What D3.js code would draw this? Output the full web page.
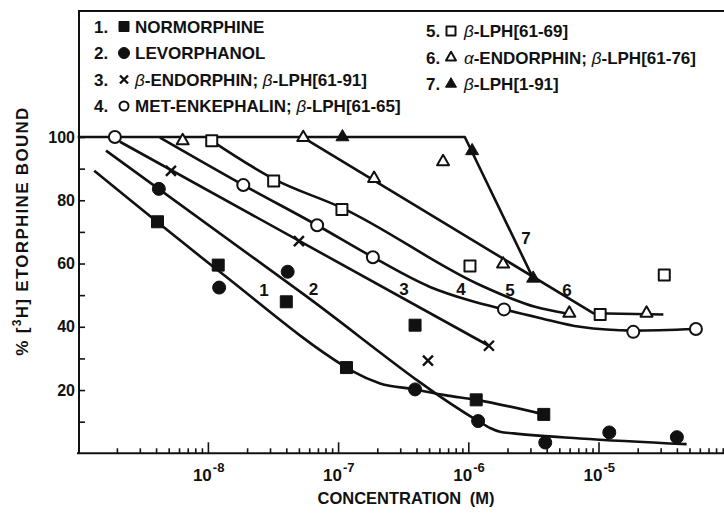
<!DOCTYPE html>
<html lang="en">
<head>
<meta charset="UTF-8">
<title>Etorphine binding displacement</title>
<script src="https://d3js.org/d3.v7.min.js"></script>
<style>
  body { margin: 0; background: #fff; }
  text { font-family: "Liberation Sans", Arial, sans-serif; font-weight: bold; fill: #111; }
</style>
</head>
<body>
<div id="chart"></div>
<script>
// legend / series
var legendLabels = ["NORMORPHINE", "LEVORPHANOL", "β-ENDORPHIN; β-LPH[61-91]", "MET-ENKEPHALIN; β-LPH[61-65]",
                    "β-LPH[61-69]", "α-ENDORPHIN; β-LPH[61-76]", "β-LPH[1-91]"];
var markerTypes = ["squareFilled", "circleFilled", "cross", "circleOpen", "squareOpen", "triangleOpen", "triangleFilled"];

// measured points: [concentration (M), % bound]
var pts1 = [[4.1e-9, 73.2], [1.2e-8, 59.5], [4.0e-8, 47.9], [1.16e-7, 27.1], [3.9e-7, 40.5], [1.15e-6, 16.9], [3.8e-6, 12.3]];
var pts2 = [[4.2e-9, 83.6], [1.22e-8, 52.4], [4.1e-8, 57.4], [3.9e-7, 20.2], [1.19e-6, 10.2], [3.9e-6, 3.4], [1.21e-5, 6.6], [4.0e-5, 5.1]];
var pts3 = [[5.2e-9, 89.3], [5.0e-8, 67.1], [4.9e-7, 29.3], [1.44e-6, 34.0]];
var pts4 = [[1.93e-9, 100], [1.87e-8, 84.8], [6.9e-8, 72.1], [1.85e-7, 62.0], [1.88e-6, 45.5], [1.85e-5, 38.4], [5.6e-5, 39.3]];
var pts5 = [[1.07e-8, 98.8], [3.2e-8, 86.1], [1.07e-7, 77.1], [1.03e-6, 59.2], [1.03e-5, 43.9], [3.2e-5, 56.4]];
var pts6 = [[6.4e-9, 98.8], [5.4e-8, 99.8], [1.89e-7, 86.9], [6.4e-7, 92.2], [1.85e-6, 59.8], [5.97e-6, 44.3], [2.34e-5, 44.3]];
var pts7 = [[1.08e-7, 100], [1.07e-6, 95.6], [3.15e-6, 55.3]];

// the hand drawn curves
var fit1 = [[1.34e-9, 89.3], [1.24e-8, 57.3], [1.16e-7, 27.1], [1.31e-7, 25.8], [2.1e-7, 22.1], [3.9e-7, 20.2], [6.6e-7, 18.4], [1.15e-6, 16.9], [3.8e-6, 12.3]];
var fit2 = [[1.65e-9, 95.7], [5.1e-8, 51.1], [1.19e-6, 10.2], [1.47e-6, 8.0], [1.75e-6, 6.8], [2.22e-6, 6.3], [7.2e-6, 4.7], [4.75e-5, 2.9]];
var fit3 = [[2.11e-9, 98.5], [1.44e-6, 34.0]];
var fit4 = [[4.28e-9, 99.8], [1.87e-8, 84.8], [6.9e-8, 72.1], [1.85e-7, 62.0], [5.08e-7, 52.6], [1.03e-6, 48.3], [1.88e-6, 45.5], [3.54e-6, 42.8], [7.2e-6, 40.0], [1.84e-5, 38.8], [5.6e-5, 39.3]];
var fit5 = [[1.07e-8, 98.8], [3.22e-8, 86.7], [1.07e-7, 77.6], [1.23e-6, 53.2], [2.09e-6, 49.1], [3.25e-6, 46.3], [5.6e-6, 44.3]];
var fit6 = [[5.4e-8, 99.8], [9.1e-6, 44.3], [3.15e-5, 43.9]];
var fit7 = [[1e-9, 100], [9.4e-7, 100], [3.15e-6, 55.3]];

// where the numbers 1..7 sit next to the curves
var curveLabelPos = [[2.70e-8, 51.6], [6.47e-8, 51.8], [3.21e-7, 51.8], [8.79e-7, 51.8], [2.09e-6, 51.6], [5.73e-6, 51.6], [2.77e-6, 68.1]];

var yTicks = [10, 20, 30, 40, 50, 60, 70, 80, 90, 100];
var xMajor = [1e-8, 1e-7, 1e-6, 1e-5];
var xMinor = [];
[1e-9, 1e-8, 1e-7, 1e-6, 1e-5].forEach(function(d) {
    for (var k = 2; k <= 9; k++) xMinor.push(d * k);
});

var points = [pts1, pts2, pts3, pts4, pts5, pts6, pts7];
var fits = [fit1, fit2, fit3, fit4, fit5, fit6, fit7];
var smooth = [true, true, false, true, true, false, false];

var width = 724, height = 515;
var margin = {top: 11, right: 0, bottom: 62, left: 79};

var x = d3.scaleLog().domain([1e-9, 1e-4]).range([77.7, 728.7]);
var y = d3.scaleLinear().domain([0, 100]).range([height - margin.bottom + 0.3, 137]);

var svg = d3.select("#chart").append("svg")
    .attr("width", width)
    .attr("height", height)
    .style("background", "#fff");

// frame: y axis runs up to the box line at the top
svg.append("path")
    .attr("d", "M" + margin.left + "," + y(0) + "V" + margin.top + "H" + width)
    .attr("fill", "none").attr("stroke", "#111").attr("stroke-width", 2);
svg.append("line")
    .attr("x1", margin.left - 2).attr("x2", width)
    .attr("y1", y(0)).attr("y2", y(0))
    .attr("stroke", "#111").attr("stroke-width", 2);

// x ticks point up into the plot
var gx = svg.append("g").attr("transform", "translate(0," + y(0) + ")");
gx.append("g").call(d3.axisTop(x).tickValues(xMinor).tickSize(5).tickFormat(""));
gx.append("g").call(d3.axisTop(x).tickValues(xMajor).tickSize(11).tickFormat(""));
gx.selectAll(".domain").remove();
gx.selectAll(".tick line").attr("stroke", "#111").attr("stroke-width", 1.6);

gx.selectAll(".xlab")
    .data(xMajor)
    .enter()
    .append("text")
    .attr("class", "xlab")
    .attr("x", function(d) { return x(d) - 15; })
    .attr("y", 28)
    .each(function(d) {
        var t = d3.select(this);
        t.append("tspan").attr("font-size", 17).attr("font-family", "'Liberation Sans Narrow', 'Liberation Sans', sans-serif").text("10");
        t.append("tspan").attr("font-size", 13).attr("dx", 1).attr("dy", -9).text("-" + Math.round(-Math.log10(d)));
    });

// y ticks point right, labels on the left
var gy = svg.append("g").attr("transform", "translate(" + margin.left + ",0)");
gy.call(d3.axisLeft(y).tickValues(yTicks).tickSizeInner(-6).tickSizeOuter(0).tickPadding(4)
    .tickFormat(function(d) { return d % 20 == 0 ? d : ""; }));
gy.select(".domain").remove();
gy.selectAll(".tick line").attr("stroke", "#111").attr("stroke-width", 1.6);
gy.selectAll(".tick text")
    .attr("font-family", "'DejaVu Sans', sans-serif")
    .attr("font-size", 16)
    .attr("font-weight", "bold")
    .attr("fill", "#111");

// axis titles
svg.append("text")
    .attr("transform", "translate(28,231) rotate(-90)")
    .attr("text-anchor", "middle")
    .attr("font-size", 17)
    .style("letter-spacing", "1.3px")
    .each(function() {
        var t = d3.select(this);
        t.append("tspan").text("% [");
        t.append("tspan").attr("font-size", 12).attr("dy", -7).text("3");
        t.append("tspan").attr("dy", 7).text("H] ETORPHINE  BOUND");
    });

svg.append("text")
    .attr("x", 406)
    .attr("y", 504)
    .attr("text-anchor", "middle")
    .attr("font-size", 16.5)
    .style("word-spacing", "4px")
    .text("CONCENTRATION  (M)");

// markers
function drawMarker(g, type, s) {
    if (type == "cross") {
        var h = s / 2;
        g.append("path")
            .attr("d", "M" + (-h) + "," + (-h) + "L" + h + "," + h + "M" + h + "," + (-h) + "L" + (-h) + "," + h)
            .attr("stroke", "#111").attr("stroke-width", 2.4).attr("fill", "none");
        return;
    }
    var shape = type.indexOf("square") == 0 ? d3.symbolSquare : (type.indexOf("circle") == 0 ? d3.symbolCircle : d3.symbolTriangle);
    var area = shape == d3.symbolSquare ? s * s : (shape == d3.symbolCircle ? Math.PI * s * s / 4 : s * s * Math.sqrt(3) / 4);
    var filled = type.indexOf("Filled") > 0;
    g.append("path")
        .attr("d", d3.symbol().type(shape).size(area)())
        .attr("fill", filled ? "#111" : "#fff")
        .attr("stroke", "#111")
        .attr("stroke-width", filled ? 1 : 2)
        .attr("stroke-linejoin", "round");
}

var chartSize = {squareFilled: 12, circleFilled: 13, cross: 10, circleOpen: 12, squareOpen: 11, triangleOpen: 12, triangleFilled: 13};
var legendSize = {squareFilled: 10, circleFilled: 11, cross: 8, circleOpen: 9, squareOpen: 9, triangleOpen: 10, triangleFilled: 11};

// curves
fits.forEach(function(f, i) {
    var line = d3.line()
        .x(function(d) { return x(d[0]); })
        .y(function(d) { return y(d[1]); })
        .curve(smooth[i] ? d3.curveMonotoneX : d3.curveLinear);
    svg.append("path")
        .datum(f)
        .attr("d", line)
        .attr("fill", "none")
        .attr("stroke", "#111")
        .attr("stroke-width", 2.6)
        .attr("stroke-linejoin", "round");
});

// data points
points.forEach(function(p, i) {
    svg.append("g").selectAll("g")
        .data(p)
        .enter()
        .append("g")
        .attr("transform", function(d) { return "translate(" + x(d[0]) + "," + y(d[1]) + ")"; })
        .each(function() { drawMarker(d3.select(this), markerTypes[i], chartSize[markerTypes[i]]); });
});

// curve numbers
svg.selectAll(".clab")
    .data(curveLabelPos)
    .enter()
    .append("text")
    .attr("class", "clab")
    .attr("x", function(d) { return x(d[0]); })
    .attr("y", function(d) { return y(d[1]) + 6; })
    .attr("text-anchor", "middle")
    .attr("font-size", 17)
    .text(function(d, i) { return i + 1; });

// legend, two columns inside the box
legendLabels.forEach(function(lab, i) {
    var col = i < 4 ? 0 : 1;
    var row = i < 4 ? i : i - 4;
    var x0 = col == 0 ? 94 : 426;
    var base = 32.5 + row * 26.5 + col * 4.5;
    var g = svg.append("g");
    g.append("text").attr("x", x0).attr("y", base).attr("font-size", 17).text((i + 1) + ".");
    var m = g.append("g").attr("transform", "translate(" + (x0 + (col == 0 ? 30 : 25)) + "," + (base - 6) + ")");
    drawMarker(m, markerTypes[i], legendSize[markerTypes[i]]);
    var t = g.append("text").attr("x", x0 + (col == 0 ? 41 : 38)).attr("y", base).attr("font-size", 17);
    lab.split(/(β|α)/).forEach(function(part) {
        if (part == "") return;
        var s = t.append("tspan").text(part);
        if (part == "β" || part == "α") s.attr("font-style", "italic").attr("font-weight", "normal");
    });
});
</script>
</body>
</html>
